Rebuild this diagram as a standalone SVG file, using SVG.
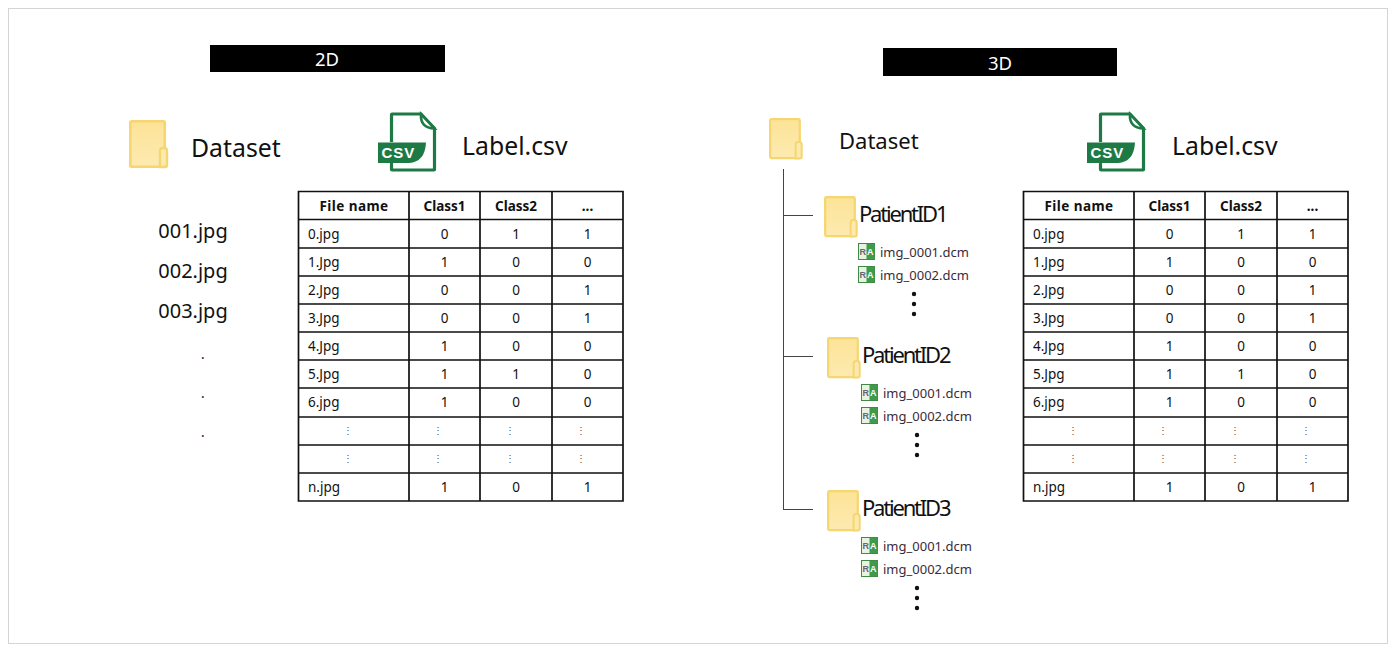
<svg xmlns="http://www.w3.org/2000/svg" width="1396" height="652" viewBox="0 0 1396 652">
<style>
text{font-family:"Noto Sans","Open Sans","Liberation Sans",sans-serif;fill:#111}
.h{font-size:18.5px;fill:#fff;text-anchor:middle}
.big{font-size:24.8px}
.pid{font-size:22px;letter-spacing:-2.2px}
.file{font-size:20px;text-anchor:middle}
.dcm{font-size:13px;fill:#3a2b3a}
.th{font-size:13.5px;font-weight:700;text-anchor:middle}
.fn{letter-spacing:.45px}
.td{font-size:13.5px;text-anchor:middle}
.tl{font-size:13.5px}
.v{font-size:10px;text-anchor:middle;fill:#555;opacity:.99}
.grid{stroke:#111;stroke-width:1.7;fill:none}
.tree{stroke:#444;stroke-width:1;fill:none}
</style>
<defs>
<linearGradient id="fg" x1="0" y1="0" x2="0" y2="1"><stop offset="0" stop-color="#fce398"/><stop offset="1" stop-color="#fdeab0"/></linearGradient>
<g id="folder">
<rect x="1.3" y="1.3" width="34.5" height="45.4" rx="1.5" fill="url(#fg)" stroke="#f6d670" stroke-width="2.6"/>
<path d="M31 47V31q0-3 3-3h1.5q2.5 0 2.5 3V45q0 2-2 2Z" fill="#fdeab0" stroke="#f6d670" stroke-width="2.4"/>
</g>
<g id="csv">
<path d="M14.500 30V2.500Q14.500 2 15 2H44L57.500 16.500V57.500Q57.500 58 57 58H15Q14.500 58 14.500 57.500V51" fill="#fff" stroke="#1e7a45" stroke-width="3.2"/>
<path d="M44 2Q43 16 57.500 16.500Z" fill="#fff" stroke="#1e7a45" stroke-width="2.600"/>
<path d="M1 30.500H49Q48 50 32 51H1Z" fill="#1e7a45"/>
<text x="4.500" y="46" style="font-family:'Liberation Sans',sans-serif;font-weight:700;font-size:15px;fill:#fff;letter-spacing:1px">CSV</text>
</g>
<g id="ra">
<rect x=".5" y=".5" width="16" height="16" fill="#e8f2e0" stroke="#3f8a45"/>
<rect x="8.500" y="1" width="8" height="15" fill="#3f9a4c"/>
<text x="1.500" y="12" style="font-family:'Liberation Sans',sans-serif;font-size:9px;font-weight:700;fill:#667">R</text>
<text x="9" y="12" style="font-family:'Liberation Sans',sans-serif;font-size:9px;font-weight:700;fill:#fff">A</text>
</g>
<g id="dots"><circle cx="0" cy="0" r="2.200" fill="#111"/><circle cx="0" cy="10" r="2.200" fill="#111"/><circle cx="0" cy="20" r="2.200" fill="#111"/></g>
<path id="tablegrid" class="grid" d="M0 0H324.500V309.500H0ZM0 28H324.500M0 56.500H324.500M0 84.500H324.500M0 112.500H324.500M0 140.500H324.500M0 168.500H324.500M0 196.500H324.500M0 225.500H324.500M0 253.500H324.500M0 281.500H324.500M110.500 0V309.500M181.500 0V309.500M253.500 0V309.500"/>
</defs>
<rect id="frame" x="8.500" y="8.500" width="1379" height="635" fill="#fff" stroke="#d4d4d4"/>

<g id="header-2d"><rect x="210" y="45" width="235" height="27" fill="#000"/><text class="h" x="327" y="66">2D</text></g>
<g id="header-3d"><rect x="883" y="48" width="234" height="28" fill="#000"/><text class="h" x="1000" y="69.500">3D</text></g>

<g id="dataset-2d"><use href="#folder" transform="translate(129 120)"/><text class="big" x="191" y="156.500">Dataset</text></g>
<g id="label-2d"><use href="#csv" x="377" y="112"/><text class="big" x="462" y="154.500">Label.csv</text></g>
<g id="files-2d">
<text class="file" x="193" y="238">001.jpg</text>
<text class="file" x="193" y="278">002.jpg</text>
<text class="file" x="193" y="318">003.jpg</text>
<text class="tl" x="201" y="359">.</text>
<text class="tl" x="201" y="398">.</text>
<text class="tl" x="201" y="437">.</text>
</g>

<g id="table-2d">
<use href="#tablegrid" x="298.500" y="191.500"/>
<text class="th fn" x="354" y="211">File name</text><text class="th" x="444.500" y="211">Class1</text><text class="th" x="516" y="211">Class2</text><text class="th" x="587.500" y="211">...</text>
<text class="tl" x="308" y="239">0.jpg</text><text class="td" x="444.500" y="239">0</text><text class="td" x="516" y="239">1</text><text class="td" x="587.500" y="239">1</text>
<text class="tl" x="308" y="267">1.Jpg</text><text class="td" x="444.500" y="267">1</text><text class="td" x="516" y="267">0</text><text class="td" x="587.500" y="267">0</text>
<text class="tl" x="308" y="295">2.Jpg</text><text class="td" x="444.500" y="295">0</text><text class="td" x="516" y="295">0</text><text class="td" x="587.500" y="295">1</text>
<text class="tl" x="308" y="323">3.Jpg</text><text class="td" x="444.500" y="323">0</text><text class="td" x="516" y="323">0</text><text class="td" x="587.500" y="323">1</text>
<text class="tl" x="308" y="351">4.Jpg</text><text class="td" x="444.500" y="351">1</text><text class="td" x="516" y="351">0</text><text class="td" x="587.500" y="351">0</text>
<text class="tl" x="308" y="379">5.Jpg</text><text class="td" x="444.500" y="379">1</text><text class="td" x="516" y="379">1</text><text class="td" x="587.500" y="379">0</text>
<text class="tl" x="308" y="407">6.jpg</text><text class="td" x="444.500" y="407">1</text><text class="td" x="516" y="407">0</text><text class="td" x="587.500" y="407">0</text>
<text class="v" x="348" y="434">⋮</text><text class="v" x="438" y="434">⋮</text><text class="v" x="510" y="434">⋮</text><text class="v" x="581" y="434">⋮</text>
<text class="v" x="348" y="462">⋮</text><text class="v" x="438" y="462">⋮</text><text class="v" x="510" y="462">⋮</text><text class="v" x="581" y="462">⋮</text>
<text class="tl" x="308" y="492">n.jpg</text><text class="td" x="444.500" y="492">1</text><text class="td" x="516" y="492">0</text><text class="td" x="587.500" y="492">1</text>
</g>

<g id="connectors">
<path class="tree" d="M783.500 169V509M783 215.500H813M783 356.500H813M783 509.500H813"/>
</g>

<g id="dataset-3d"><use href="#folder" transform="translate(769 118) scale(.86)"/><text x="839" y="148.500" style="font-size:22px">Dataset</text></g>
<g id="label-3d"><use href="#csv" x="1086" y="112"/><text class="big" x="1172" y="154.500">Label.csv</text></g>

<g id="patient1"><use href="#folder" transform="translate(824 196) scale(.86)"/><text class="pid" x="859" y="222">PatientID1</text>
<use href="#ra" x="858" y="243"/><text class="dcm" x="880" y="257">img_0001.dcm</text>
<use href="#ra" x="858" y="266"/><text class="dcm" x="880" y="280">img_0002.dcm</text>
<use href="#dots" x="914" y="294"/></g>
<g id="patient2"><use href="#folder" transform="translate(827 337) scale(.86)"/><text class="pid" x="862" y="363">PatientID2</text>
<use href="#ra" x="861" y="384"/><text class="dcm" x="883" y="398">img_0001.dcm</text>
<use href="#ra" x="861" y="407"/><text class="dcm" x="883" y="421">img_0002.dcm</text>
<use href="#dots" x="917" y="435"/></g>
<g id="patient3"><use href="#folder" transform="translate(827 490) scale(.86)"/><text class="pid" x="862" y="516">PatientID3</text>
<use href="#ra" x="861" y="537"/><text class="dcm" x="883" y="551">img_0001.dcm</text>
<use href="#ra" x="861" y="560"/><text class="dcm" x="883" y="574">img_0002.dcm</text>
<use href="#dots" x="917" y="588"/></g>

<g id="table-3d">
<use href="#tablegrid" x="1023.500" y="191.500"/>
<text class="th fn" x="1079" y="211">File name</text><text class="th" x="1169.500" y="211">Class1</text><text class="th" x="1241" y="211">Class2</text><text class="th" x="1312.500" y="211">...</text>
<text class="tl" x="1033" y="239">0.jpg</text><text class="td" x="1169.500" y="239">0</text><text class="td" x="1241" y="239">1</text><text class="td" x="1312.500" y="239">1</text>
<text class="tl" x="1033" y="267">1.Jpg</text><text class="td" x="1169.500" y="267">1</text><text class="td" x="1241" y="267">0</text><text class="td" x="1312.500" y="267">0</text>
<text class="tl" x="1033" y="295">2.Jpg</text><text class="td" x="1169.500" y="295">0</text><text class="td" x="1241" y="295">0</text><text class="td" x="1312.500" y="295">1</text>
<text class="tl" x="1033" y="323">3.Jpg</text><text class="td" x="1169.500" y="323">0</text><text class="td" x="1241" y="323">0</text><text class="td" x="1312.500" y="323">1</text>
<text class="tl" x="1033" y="351">4.Jpg</text><text class="td" x="1169.500" y="351">1</text><text class="td" x="1241" y="351">0</text><text class="td" x="1312.500" y="351">0</text>
<text class="tl" x="1033" y="379">5.Jpg</text><text class="td" x="1169.500" y="379">1</text><text class="td" x="1241" y="379">1</text><text class="td" x="1312.500" y="379">0</text>
<text class="tl" x="1033" y="407">6.jpg</text><text class="td" x="1169.500" y="407">1</text><text class="td" x="1241" y="407">0</text><text class="td" x="1312.500" y="407">0</text>
<text class="v" x="1073" y="434">⋮</text><text class="v" x="1163" y="434">⋮</text><text class="v" x="1235" y="434">⋮</text><text class="v" x="1306" y="434">⋮</text>
<text class="v" x="1073" y="462">⋮</text><text class="v" x="1163" y="462">⋮</text><text class="v" x="1235" y="462">⋮</text><text class="v" x="1306" y="462">⋮</text>
<text class="tl" x="1033" y="492">n.jpg</text><text class="td" x="1169.500" y="492">1</text><text class="td" x="1241" y="492">0</text><text class="td" x="1312.500" y="492">1</text>
</g>
</svg>
